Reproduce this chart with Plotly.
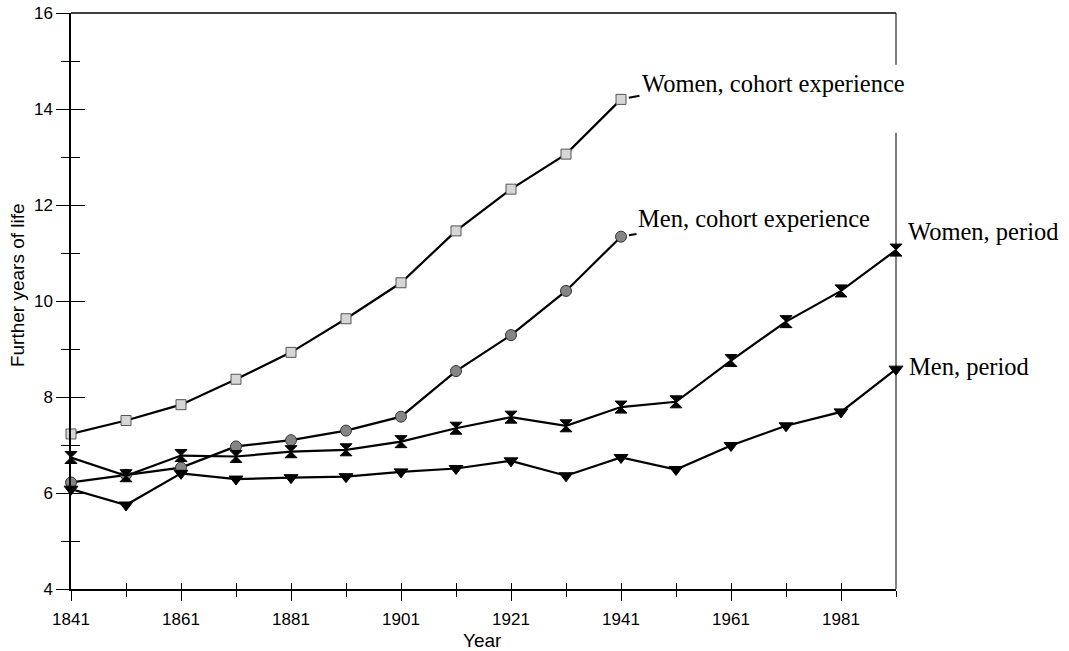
import plotly.graph_objects as go

years_cohort = [1841, 1851, 1861, 1871, 1881, 1891, 1901, 1911, 1921, 1931, 1941]
years_period = [1841, 1851, 1861, 1871, 1881, 1891, 1901, 1911, 1921, 1931, 1941, 1951, 1961, 1971, 1981, 1991]

women_cohort = [7.23, 7.51, 7.84, 8.37, 8.93, 9.63, 10.38, 11.46, 12.33, 13.06, 14.20]
men_cohort = [6.22, 6.38, 6.53, 6.97, 7.10, 7.30, 7.59, 8.54, 9.29, 10.21, 11.34]
women_period = [6.74, 6.36, 6.78, 6.76, 6.86, 6.90, 7.07, 7.35, 7.58, 7.40, 7.79, 7.90, 8.76, 9.57, 10.21, 11.06]
men_period = [6.08, 5.75, 6.41, 6.29, 6.32, 6.34, 6.44, 6.51, 6.67, 6.36, 6.74, 6.49, 6.99, 7.40, 7.69, 8.58]

x_tick_vals = [1841, 1861, 1881, 1901, 1921, 1941, 1961, 1981]
x_tick_text = ["1841", "1861", "1881", "1901", "1921", "1941", "1961", "1981"]
y_tick_vals = [4, 6, 8, 10, 12, 14, 16]

label_women_cohort = "Women, cohort experience"
label_men_cohort = "Men, cohort experience"
label_women_period = "Women, period"
label_men_period = "Men, period"

SANS = "Liberation Sans, Arial, sans-serif"
SERIF = "Liberation Serif, Times New Roman, serif"

fig = go.Figure()

fig.add_trace(go.Scatter(
    x=years_cohort, y=women_cohort, mode="lines+markers", name=label_women_cohort,
    line=dict(color="black", width=2.2),
    marker=dict(symbol="square", size=10, color="#d6d6d6", line=dict(color="#555555", width=1)),
    cliponaxis=False,
))
fig.add_trace(go.Scatter(
    x=years_cohort, y=men_cohort, mode="lines+markers", name=label_men_cohort,
    line=dict(color="black", width=2.2),
    marker=dict(symbol="circle", size=11, color="#858585", line=dict(color="#333333", width=1)),
    cliponaxis=False,
))
fig.add_trace(go.Scatter(
    x=years_period, y=women_period, mode="lines+markers", name=label_women_period,
    line=dict(color="black", width=2.2),
    marker=dict(symbol="hourglass", size=12, color="black", line=dict(color="black", width=1)),
    cliponaxis=False,
))
fig.add_trace(go.Scatter(
    x=years_period, y=men_period, mode="lines+markers", name=label_men_period,
    line=dict(color="black", width=2.2),
    marker=dict(symbol="triangle-down", size=12, color="black", line=dict(color="black", width=1)),
    cliponaxis=False,
))
# empty helper trace so the overlaid (inside-tick) axes are drawn
fig.add_trace(go.Scatter(x=[], y=[], xaxis="x2", yaxis="y2", showlegend=False, hoverinfo="skip"))

xr = [1841, 1991]
yr = [4, 16]

fig.update_layout(
    width=1069, height=651,
    margin=dict(l=71, r=173, t=13, b=62, autoexpand=False),
    paper_bgcolor="white", plot_bgcolor="white",
    showlegend=False,
    hovermode=False,
    xaxis=dict(
        range=xr, tickmode="array", tickvals=x_tick_vals, ticktext=x_tick_text,
        ticks="outside", ticklen=10, tickwidth=1, tickcolor="black",
        showline=True, linecolor="black", linewidth=1.5,
        showgrid=False, zeroline=False, automargin=False, ticklabelstandoff=4,
        minor=dict(tick0=1841, dtick=10, ticks="outside", ticklen=6, tickwidth=1, tickcolor="black", showgrid=False),
        tickfont=dict(family=SANS, size=17, color="black"),
    ),
    xaxis2=dict(
        range=xr, overlaying="x", anchor="y", side="bottom",
        tickmode="array", tickvals=x_tick_vals, showticklabels=False,
        ticks="inside", ticklen=6, tickwidth=1, tickcolor="black",
        showline=False, showgrid=False, zeroline=False, automargin=False,
        minor=dict(tick0=1841, dtick=10, ticks="inside", ticklen=6, tickwidth=1, tickcolor="black", showgrid=False),
    ),
    yaxis=dict(
        range=yr, tickmode="array", tickvals=y_tick_vals,
        ticks="outside", ticklen=13, tickwidth=1, tickcolor="black",
        showline=True, linecolor="black", linewidth=1.5,
        showgrid=False, zeroline=False, automargin=False,
        minor=dict(tick0=4, dtick=1, ticks="outside", ticklen=8, tickwidth=1, tickcolor="black", showgrid=False),
        tickfont=dict(family=SANS, size=17, color="black"),
    ),
    yaxis2=dict(
        range=yr, overlaying="y", anchor="x", side="left",
        tickmode="array", tickvals=y_tick_vals, showticklabels=False,
        ticks="inside", ticklen=14, tickwidth=1, tickcolor="black",
        showline=False, showgrid=False, zeroline=False, automargin=False,
        minor=dict(tick0=4, dtick=1, ticks="inside", ticklen=9, tickwidth=1, tickcolor="black", showgrid=False),
    ),
)

# Frame: top line and interrupted right line
fig.add_shape(type="line", xref="paper", yref="paper", x0=0, x1=1, y0=1, y1=1,
              line=dict(color="black", width=1.5))
fig.add_shape(type="line", xref="paper", yref="paper", x0=1, x1=1, y0=0.91, y1=1,
              line=dict(color="black", width=1))
fig.add_shape(type="line", xref="paper", yref="paper", x0=1, x1=1, y0=0, y1=0.792,
              line=dict(color="black", width=1))

# Axis titles
fig.add_annotation(text="Year", xref="paper", yref="paper", x=0.499, y=-0.090,
                   showarrow=False, xanchor="center", yanchor="middle",
                   font=dict(family=SANS, size=19, color="black"))
fig.add_annotation(text="Further years of life", xref="paper", yref="paper", x=-0.064, y=0.528,
                   showarrow=False, textangle=-90, xanchor="center", yanchor="middle",
                   font=dict(family=SANS, size=19, color="black"))

# Series labels
serif_font = dict(family=SERIF, size=24.5, color="black")
fig.add_annotation(text=label_women_cohort, xref="paper", yref="paper", x=0.690, y=0.877,
                   showarrow=False, xanchor="left", yanchor="middle", font=serif_font)
fig.add_annotation(text=label_men_cohort, xref="paper", yref="paper", x=0.685, y=0.644,
                   showarrow=False, xanchor="left", yanchor="middle", font=serif_font)
fig.add_annotation(text=label_women_period, xref="paper", yref="paper", x=1.012, y=0.620,
                   showarrow=False, xanchor="left", yanchor="middle", font=serif_font)
fig.add_annotation(text=label_men_period, xref="paper", yref="paper", x=1.013, y=0.387,
                   showarrow=False, xanchor="left", yanchor="middle", font=serif_font)

# Leader lines from last cohort points to their labels
fig.add_annotation(text="", x=years_cohort[-1], y=women_cohort[-1], xref="x", yref="y",
                   showarrow=True, arrowhead=0, arrowwidth=2, arrowcolor="black",
                   ax=20, ay=-4, standoff=8)
fig.add_annotation(text="", x=years_cohort[-1], y=men_cohort[-1], xref="x", yref="y",
                   showarrow=True, arrowhead=0, arrowwidth=2, arrowcolor="black",
                   ax=17, ay=-3, standoff=8)

fig.write_html(
    "out.html",
    config={"displayModeBar": False},
    post_script="document.body.style.margin='0';document.body.style.overflow='hidden';",
)
